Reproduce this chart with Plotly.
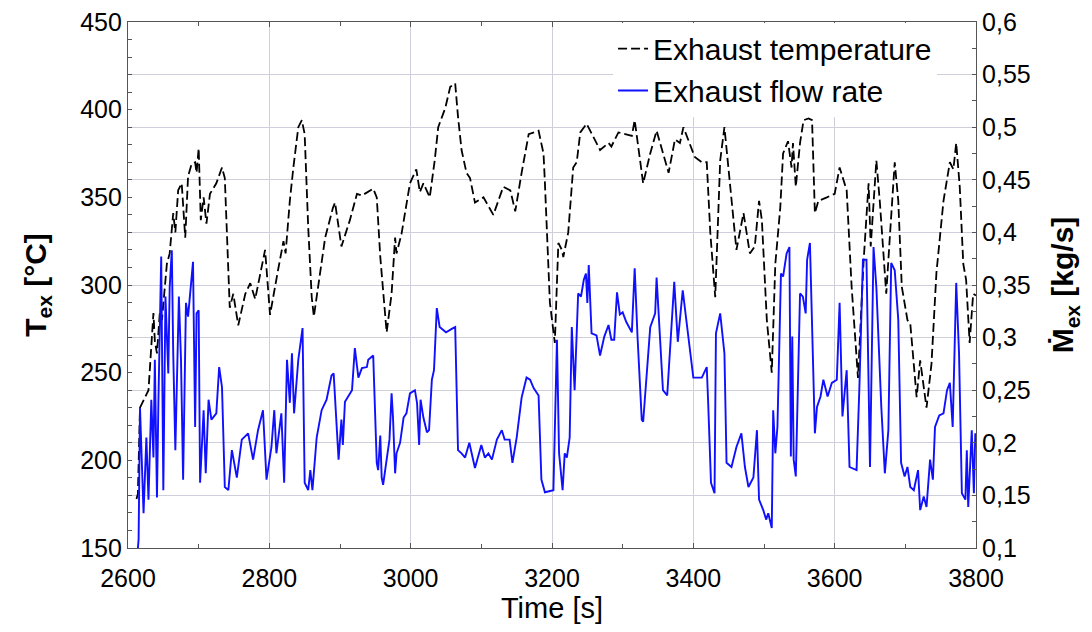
import plotly.graph_objects as go

# Exhaust temperature [°C]
temp_time = [2612, 2614, 2617, 2624, 2629, 2636, 2638, 2641, 2645, 2648, 2655, 2659, 2664, 2667, 2671,
             2676, 2681, 2685, 2690, 2695, 2697, 2700, 2703, 2707, 2711, 2716, 2725, 2733, 2737, 2744,
             2749, 2756, 2766, 2773, 2780, 2794, 2801, 2813, 2820, 2823, 2829, 2834, 2841, 2846, 2850,
             2855, 2860, 2863, 2872, 2879, 2890, 2893, 2902, 2914, 2924, 2931, 2947, 2952, 2957, 2964,
             2966, 2973, 2978, 2980, 2987, 2999, 3008, 3013, 3018, 3027, 3034, 3039, 3049, 3056, 3063,
             3067, 3072, 3079, 3084, 3091, 3103, 3117, 3131, 3141, 3148, 3157, 3167, 3181, 3188, 3190,
             3197, 3204, 3209, 3214, 3216, 3223, 3230, 3235, 3240, 3249, 3254, 3268, 3280, 3284, 3294,
             3313, 3317, 3329, 3339, 3348, 3365, 3374, 3381, 3386, 3402, 3412, 3419, 3424, 3431, 3438,
             3444, 3452, 3461, 3471, 3480, 3487, 3493, 3497, 3504, 3511, 3516, 3523, 3527, 3534, 3539,
             3541, 3545, 3551, 3556, 3563, 3568, 3572, 3577, 3589, 3600, 3607, 3617, 3624, 3633, 3641,
             3648, 3651, 3659, 3664, 3673, 3678, 3685, 3690, 3695, 3703, 3707, 3716, 3721, 3730, 3737,
             3744, 3754, 3763, 3768, 3772, 3777, 3782, 3786, 3791, 3796, 3800]
temp_vals = [178, 181, 230, 236, 240, 284, 268, 261, 284, 280, 312, 318, 341, 330, 354,
             358, 327, 362, 369, 370, 364, 378, 337, 350, 335, 352, 358, 367, 361, 287,
             295, 277, 295, 301, 292, 320, 283, 310, 325, 318, 348, 367, 390, 394, 386,
             333, 293, 282, 308, 327, 344, 347, 322, 337, 352, 351, 355, 350, 316, 280,
             273, 295, 327, 318, 329, 358, 366, 353, 358, 350, 371, 390, 401, 413, 415,
             396, 377, 364, 361, 347, 350, 340, 356, 354, 342, 364, 386, 388, 375, 358,
             290, 267, 324, 320, 316, 330, 367, 370, 387, 392, 388, 377, 381, 379, 387,
             385, 394, 358, 375, 388, 364, 383, 381, 390, 373, 370, 370, 330, 293, 371,
             390, 356, 320, 341, 318, 322, 348, 337, 280, 250, 312, 344, 375, 382, 367,
             381, 356, 381, 394, 395, 394, 341, 348, 350, 352, 367, 354, 299, 247, 314,
             358, 322, 371, 347, 295, 327, 370, 348, 299, 280, 278, 236, 257, 230, 255,
             307, 348, 370, 366, 381, 356, 312, 303, 267, 295, 294]

# Exhaust flow rate [kg/s]
flow_time = [2614, 2615, 2617, 2622, 2626, 2629, 2633, 2636, 2638, 2641, 2643, 2647, 2650, 2653, 2657,
             2659, 2662, 2664, 2667, 2672, 2675, 2678, 2682, 2685, 2692, 2695, 2697, 2700, 2702, 2707,
             2710, 2714, 2718, 2725, 2729, 2733, 2737, 2742, 2747, 2754, 2761, 2770, 2777, 2784, 2791,
             2796, 2803, 2807, 2810, 2817, 2821, 2825, 2829, 2832, 2835, 2841, 2847, 2850, 2855, 2858,
             2861, 2867, 2874, 2881, 2888, 2891, 2898, 2902, 2904, 2907, 2917, 2921, 2926, 2931, 2938,
             2940, 2947, 2952, 2954, 2957, 2959, 2961, 2966, 2970, 2973, 2975, 2978, 2980, 2985, 2990,
             2994, 2999, 3006, 3009, 3012, 3014, 3018, 3023, 3026, 3030, 3033, 3037, 3041, 3050, 3060,
             3063, 3067, 3072, 3077, 3083, 3091, 3100, 3105, 3110, 3115, 3122, 3129, 3133, 3140, 3144,
             3150, 3157, 3164, 3169, 3174, 3181, 3185, 3190, 3202, 3207, 3210, 3215, 3218, 3221, 3225,
             3228, 3232, 3237, 3241, 3245, 3248, 3250, 3252, 3256, 3263, 3268, 3274, 3280, 3284, 3288,
             3292, 3296, 3300, 3305, 3313, 3317, 3321, 3327, 3329, 3339, 3346, 3348, 3352, 3357, 3363,
             3368, 3373, 3378, 3385, 3390, 3400, 3412, 3419, 3421, 3425, 3430, 3432, 3438, 3444, 3447,
             3454, 3461, 3468, 3473, 3478, 3485, 3490, 3493, 3499, 3503, 3506, 3511, 3513, 3516, 3519,
             3524, 3527, 3532, 3536, 3538, 3540, 3542, 3545, 3551, 3555, 3559, 3561, 3565, 3570, 3572,
             3575, 3580, 3584, 3590, 3596, 3603, 3607, 3611, 3617, 3621, 3631, 3635, 3640, 3645, 3650,
             3655, 3659, 3666, 3671, 3676, 3680, 3685, 3690, 3694, 3699, 3703, 3707, 3712, 3718, 3721,
             3726, 3730, 3735, 3739, 3742, 3748, 3754, 3759, 3763, 3767, 3772, 3776, 3780, 3785, 3787,
             3789, 3794, 3797, 3799]
flow_vals = [0.100, 0.108, 0.233, 0.133, 0.205, 0.146, 0.241, 0.186, 0.279, 0.148, 0.238, 0.377, 0.155, 0.339, 0.266,
             0.348, 0.383, 0.285, 0.193, 0.339, 0.279, 0.165, 0.333, 0.320, 0.372, 0.215, 0.323, 0.326, 0.162, 0.231,
             0.171, 0.241, 0.222, 0.228, 0.272, 0.253, 0.158, 0.155, 0.193, 0.167, 0.203, 0.209, 0.184, 0.212, 0.231,
             0.165, 0.196, 0.231, 0.190, 0.228, 0.162, 0.279, 0.238, 0.285, 0.228, 0.279, 0.309, 0.162, 0.155, 0.174,
             0.155, 0.205, 0.231, 0.241, 0.264, 0.266, 0.184, 0.222, 0.198, 0.239, 0.250, 0.290, 0.262, 0.271, 0.272,
             0.279, 0.283, 0.181, 0.174, 0.207, 0.167, 0.160, 0.184, 0.203, 0.247, 0.224, 0.171, 0.190, 0.200, 0.224,
             0.228, 0.247, 0.250, 0.238, 0.198, 0.241, 0.224, 0.210, 0.212, 0.260, 0.269, 0.328, 0.310, 0.305, 0.309,
             0.310, 0.193, 0.190, 0.186, 0.200, 0.176, 0.198, 0.186, 0.190, 0.184, 0.203, 0.212, 0.203, 0.203, 0.181,
             0.205, 0.243, 0.262, 0.260, 0.252, 0.245, 0.165, 0.153, 0.155, 0.298, 0.190, 0.155, 0.190, 0.186, 0.205,
             0.310, 0.250, 0.342, 0.339, 0.355, 0.361, 0.333, 0.369, 0.304, 0.302, 0.283, 0.301, 0.312, 0.298, 0.298,
             0.343, 0.322, 0.324, 0.315, 0.305, 0.366, 0.301, 0.222, 0.220, 0.310, 0.323, 0.357, 0.310, 0.250, 0.245,
             0.298, 0.353, 0.296, 0.345, 0.317, 0.262, 0.262, 0.272, 0.238, 0.162, 0.152, 0.304, 0.323, 0.285, 0.181,
             0.177, 0.196, 0.209, 0.177, 0.158, 0.167, 0.212, 0.146, 0.136, 0.127, 0.133, 0.119, 0.231, 0.190, 0.215,
             0.361, 0.358, 0.380, 0.386, 0.187, 0.301, 0.184, 0.168, 0.342, 0.339, 0.323, 0.374, 0.390, 0.253, 0.209,
             0.234, 0.244, 0.260, 0.244, 0.257, 0.260, 0.333, 0.225, 0.269, 0.177, 0.174, 0.253, 0.374, 0.374, 0.177,
             0.386, 0.348, 0.234, 0.171, 0.212, 0.371, 0.364, 0.317, 0.181, 0.168, 0.177, 0.158, 0.155, 0.174, 0.136,
             0.149, 0.139, 0.184, 0.165, 0.215, 0.226, 0.228, 0.250, 0.257, 0.215, 0.352, 0.285, 0.152, 0.146, 0.193,
             0.139, 0.212, 0.152, 0.209]

x_ticks = [2600, 2800, 3000, 3200, 3400, 3600, 3800]
left_ticks = [150, 200, 250, 300, 350, 400, 450]
right_tickvals = [0.1, 0.15, 0.2, 0.25, 0.3, 0.35, 0.4, 0.45, 0.5, 0.55, 0.6]
right_ticktext = ["0,1", "0,15", "0,2", "0,25", "0,3", "0,35", "0,4", "0,45", "0,5", "0,55", "0,6"]

FONT = "Liberation Sans, Arial, sans-serif"
GRID = "#cfcfdc"
FRAME = "#555555"

fig = go.Figure()
fig.add_trace(go.Scatter(x=temp_time, y=temp_vals, mode="lines", name="Exhaust temperature",
                         line=dict(color="black", width=1.8, dash="9px,4px"), yaxis="y"))
fig.add_trace(go.Scatter(x=flow_time, y=flow_vals, mode="lines", name="Exhaust flow rate",
                         line=dict(color="#1010ff", width=1.9), yaxis="y2"))

# the page body has an 8px margin, so the figure is sized to fit the 1092x632 window
fig.update_layout(
    width=1084, height=624,
    margin=dict(l=120, r=116, t=14, b=84, autoexpand=False),
    paper_bgcolor="white", plot_bgcolor="white",
    font=dict(family=FONT, color="black"),
    showlegend=True,
    legend=dict(x=0.572, y=0.999, xanchor="left", yanchor="top", bgcolor="white",
                font=dict(size=30, family=FONT), tracegroupgap=0, itemwidth=30),
    xaxis=dict(range=[2600, 3800], tickvals=x_ticks, ticks="inside", ticklen=5, tickcolor=FRAME,
               minor=dict(dtick=100, tick0=2600, ticks="inside", ticklen=4, tickcolor=FRAME, showgrid=False),
               showgrid=True, gridcolor=GRID, gridwidth=1, zeroline=False, automargin=False,
               showline=True, linecolor=FRAME, linewidth=1.2, mirror="ticks",
               tickfont=dict(size=25, family=FONT), ticklabelstandoff=8, ticklabeloverflow="allow",
               title=dict(text="Time [s]", font=dict(size=29, family=FONT), standoff=4)),
    yaxis=dict(range=[150, 450], tickvals=left_ticks, ticks="inside", ticklen=4, tickcolor=FRAME,
               minor=dict(dtick=10, tick0=150, ticks="inside", ticklen=4, tickcolor=FRAME, showgrid=False),
               showgrid=False, zeroline=False, showline=True, linecolor=FRAME, linewidth=1.2,
               automargin=False, tickfont=dict(size=25, family=FONT), ticklabeloverflow="allow",
               title=dict(text="<b>T<sub>ex</sub> [°C]</b>", font=dict(size=30, family=FONT), standoff=24)),
    yaxis2=dict(range=[0.1, 0.6], overlaying="y", side="right",
                tickvals=right_tickvals, ticktext=right_ticktext,
                ticks="inside", ticklen=4, tickcolor=FRAME,
                minor=dict(dtick=0.025, tick0=0.1, ticks="inside", ticklen=4, tickcolor=FRAME, showgrid=False),
                showgrid=True, gridcolor=GRID, gridwidth=1, zeroline=False, automargin=False,
                showline=True, linecolor=FRAME, linewidth=1.2, ticklabeloverflow="allow",
                tickfont=dict(size=25, family=FONT),
                title=dict(text="<b>Ṁ<sub>ex</sub> [kg/s]</b>", font=dict(size=30, family=FONT), standoff=22)),
)

fig.write_html("out.html")
